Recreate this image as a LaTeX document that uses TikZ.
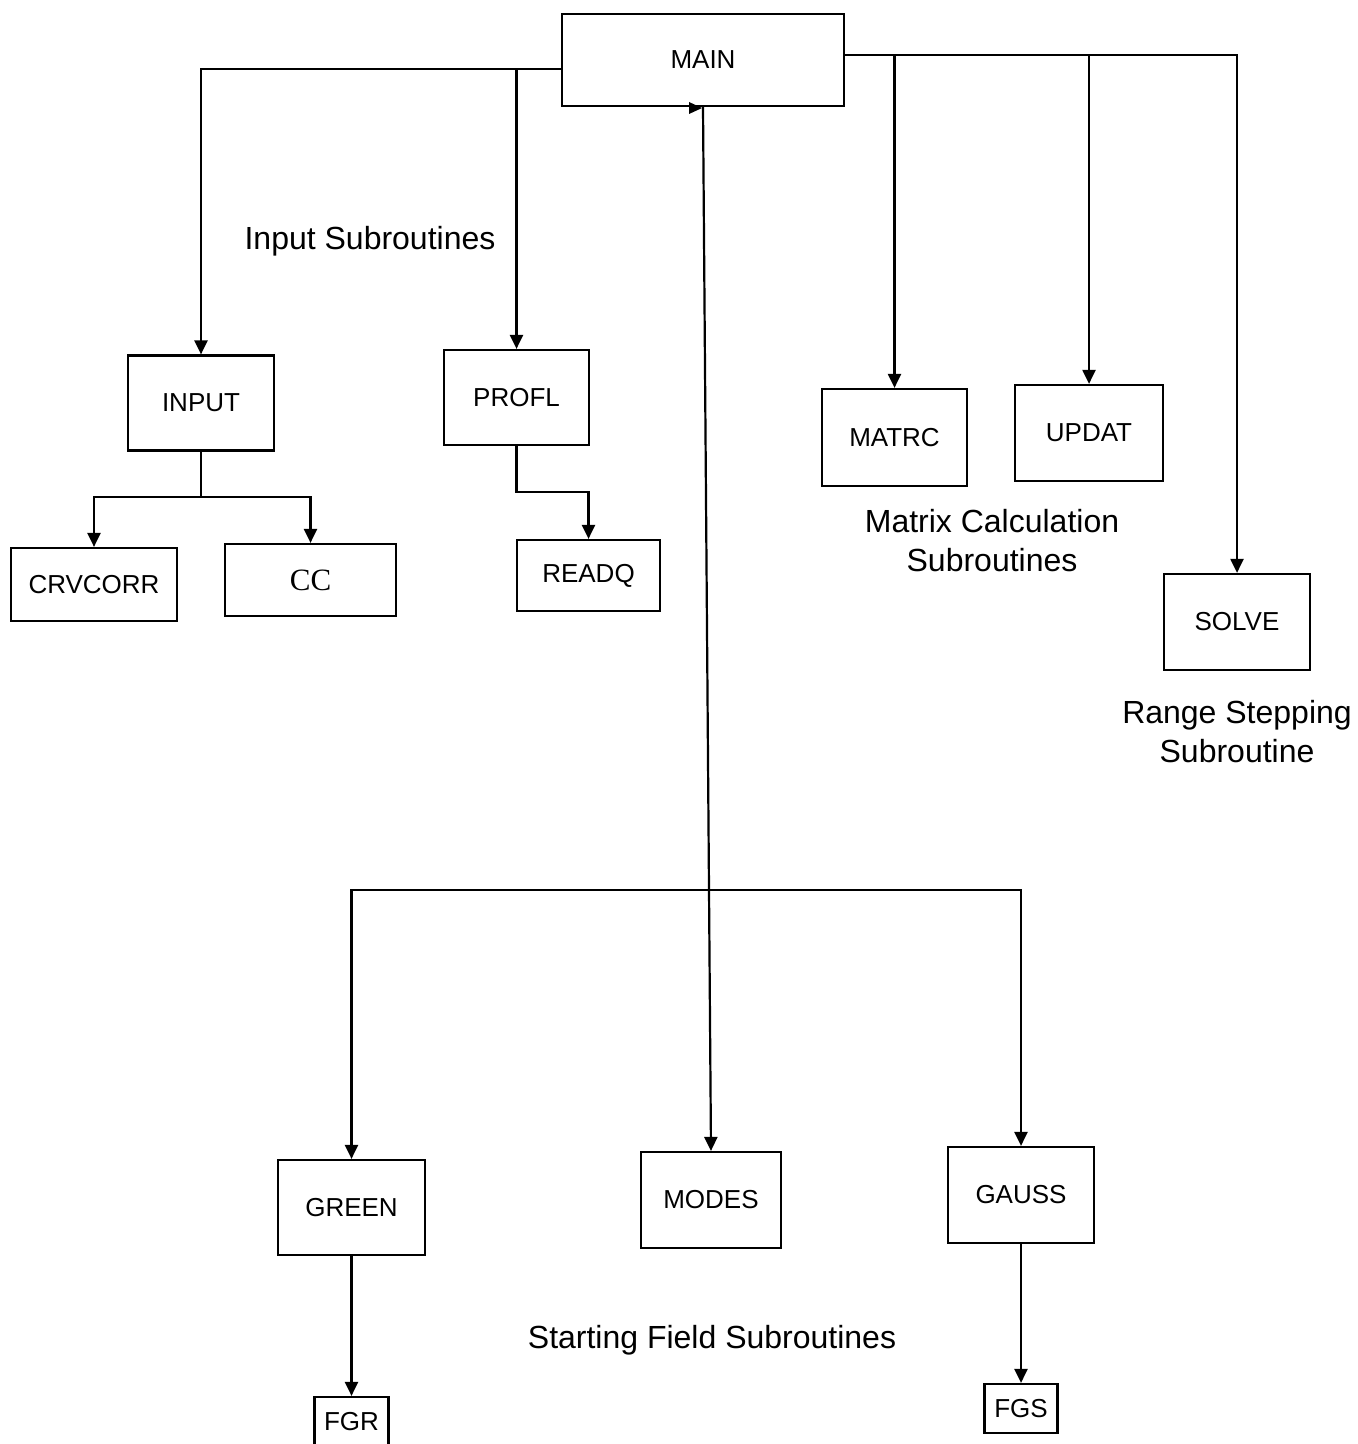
\documentclass[tikz,border=0pt]{standalone}
\usepackage{fontspec}
\setmainfont{Liberation Sans}
\newfontfamily\serifcc{Liberation Serif}
\usetikzlibrary{arrows.meta}
\begin{document}
\begin{tikzpicture}[x=0.5pt,y=-0.5pt,
  box/.style={draw,line width=1.1pt,rectangle,inner sep=0pt,font=\fontsize{13}{15}\selectfont},
  lbl/.style={font=\fontsize{16}{19.5}\selectfont,align=center,inner sep=0pt},
  conn/.style={line width=1.1pt},
  arr/.style={conn,-{Triangle[length=7pt,width=6.5pt]}}]
\useasboundingbox (0,0) rectangle (1357,1444);
% boxes
\node[box,minimum width=141pt,minimum height=46pt] (MAIN) at (703,60) {MAIN};
\node[box,minimum width=73pt,minimum height=47.5pt] (INPUT) at (201,403) {INPUT};
\node[box,minimum width=83pt,minimum height=36.5pt] (CRVCORR) at (94,584.5) {CRVCORR};
\node[box,minimum width=85.5pt,minimum height=36pt,font=\serifcc\fontsize{15.5}{17}\selectfont] (CC) at (310.5,580) {CC};
\node[box,minimum width=72.5pt,minimum height=47.5pt] (PROFL) at (516.5,397.5) {PROFL};
\node[box,minimum width=71.5pt,minimum height=35.5pt] (READQ) at (588.5,575.5) {READQ};
\node[box,minimum width=72.5pt,minimum height=48.5pt] (MATRC) at (894.5,437.5) {MATRC};
\node[box,minimum width=74pt,minimum height=48pt] (UPDAT) at (1089,433) {UPDAT};
\node[box,minimum width=73pt,minimum height=48pt] (SOLVE) at (1237,622) {SOLVE};
\node[box,minimum width=73.5pt,minimum height=47.5pt] (GREEN) at (351.5,1207.5) {GREEN};
\node[box,minimum width=70pt,minimum height=48pt] (MODES) at (711,1200) {MODES};
\node[box,minimum width=73pt,minimum height=48pt] (GAUSS) at (1021,1195) {GAUSS};
\node[box,minimum width=37pt,minimum height=25pt] (FGR) at (351.5,1422) {FGR};
\node[box,minimum width=36.5pt,minimum height=24.5pt] (FGS) at (1021,1408.5) {FGS};
% labels
\node[lbl] (l1) at (370,241) {Input Subroutines};
\node[lbl] (l2) at (992,541) {Matrix Calculation\\Subroutines};
\node[lbl] (l3) at (1237,732) {Range Stepping\\Subroutine};
\node[lbl] (l4) at (712,1340) {Starting Field Subroutines};
% junctions
\coordinate (jl) at (201,69);
\coordinate (jr) at (1237,55);
\coordinate (ji) at (201,497);
\coordinate (jb) at (709,890);
% connectors
\draw[arr] (MAIN.west |- jl) -- (jl) -- (INPUT.north);
\draw[arr] (PROFL.north |- jl) -- (PROFL.north);
\draw[arr] (MAIN.east |- jr) -- (jr) -- (SOLVE.north);
\draw[arr] (MATRC.north |- jr) -- (MATRC.north);
\draw[arr] (UPDAT.north |- jr) -- (UPDAT.north);
\draw[conn] (INPUT.south) -- (ji);
\draw[arr] (ji) -| (CRVCORR.north);
\draw[arr] (ji) -| (CC.north);
\draw[arr] (PROFL.south) -- ++(0,46) -| (READQ.north);
\draw[arr] (MAIN.south) -- (MODES.north);
\draw[arr] (jb) -| (GREEN.north);
\draw[arr] (jb) -| (GAUSS.north);
\draw[arr] (GREEN.south) -- (FGR.north);
\draw[arr] (GAUSS.south) -- (FGS.north);
\fill (689,102) -- (702,108) -- (689,114) -- cycle;
\end{tikzpicture}
\end{document}
